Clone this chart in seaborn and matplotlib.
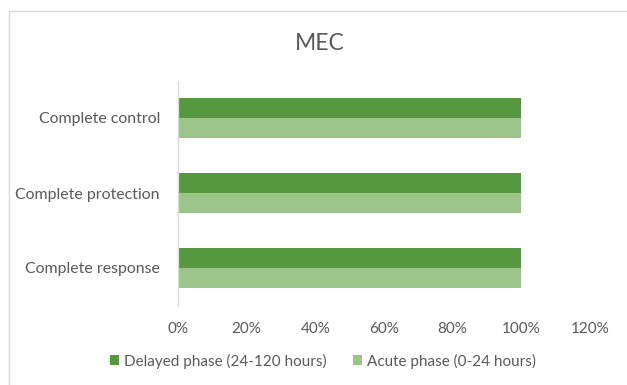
import matplotlib
matplotlib.use("Agg")
import matplotlib.pyplot as plt
from matplotlib.patches import Rectangle
from matplotlib.ticker import PercentFormatter
import seaborn as sns
import pandas as pd

# Outcome categories and percentage of patients per phase
categories = ["Complete control", "Complete protection", "Complete response"]
series_names = ["Delayed phase (24-120 hours)", "Acute phase (0-24 hours)"]
delayed = [100, 100, 100]
acute = [100, 100, 100]
x_ticks = [0, 20, 40, 60, 80, 100, 120]

colors = {"Delayed phase (24-120 hours)": "#56983f",
          "Acute phase (0-24 hours)": "#9bc48a"}
text_color = "#595959"

df = pd.DataFrame({
    "category": categories * 2,
    "phase": [series_names[0]] * len(categories) + [series_names[1]] * len(categories),
    "value": delayed + acute,
})

sns.set_theme(style="white")
plt.rcParams["font.family"] = ["Lato", "DejaVu Sans"]

fig = plt.figure(figsize=(6.27, 3.85), dpi=100)
ax = fig.add_axes([178 / 627, 1 - 305.5 / 385, (590 - 178) / 627, 225 / 385])

sns.barplot(data=df, y="category", x="value", hue="phase", orient="h",
            order=categories, hue_order=series_names, palette=colors,
            width=0.54, ax=ax, legend=True, saturation=1, linewidth=0,
            edgecolor="none")

ax.set_xlim(0, 120)
ax.set_ylim(2.5, -0.5)
ax.set_xticks(x_ticks)
ax.xaxis.set_major_formatter(PercentFormatter(decimals=0))
ax.set_xlabel("")
ax.set_ylabel("")
ax.tick_params(axis="x", colors=text_color, labelsize=11, length=0, pad=12)
ax.tick_params(axis="y", colors=text_color, labelsize=11.4, length=0, pad=13)

for side in ["top", "right", "bottom"]:
    ax.spines[side].set_visible(False)
ax.spines["left"].set_color("#d9d9d9")
ax.spines["left"].set_linewidth(1.0)

fig.text(320 / 627, 1 - 43 / 385, "MEC", ha="center", va="center",
         fontsize=16.5, color=text_color)

handles, labels = ax.get_legend_handles_labels()
ax.legend(handles, labels, loc="center", bbox_to_anchor=(323 / 627, 1 - 361 / 385),
          bbox_transform=fig.transFigure, ncol=2, frameon=False,
          fontsize=11, labelcolor=text_color, handlelength=0.6, handleheight=0.6,
          handletextpad=0.35, columnspacing=1.7)

# Chart frame
fig.patches.append(Rectangle((9 / 627, -0.1), 1.2, 1 - 11 / 385 + 0.1,
                             transform=fig.transFigure, fill=False,
                             edgecolor="#d9d9d9", linewidth=1.0))

fig.savefig("out.png", dpi=100)
